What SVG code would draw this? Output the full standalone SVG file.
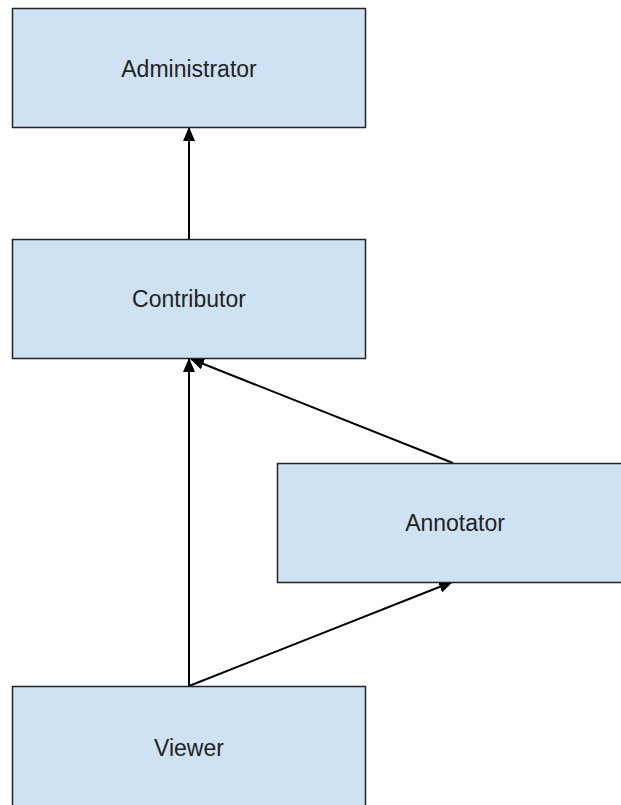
<svg xmlns="http://www.w3.org/2000/svg" width="621" height="805" viewBox="0 0 621 805">
  <style>
    .box { fill: #cfe2f3; stroke: #222; stroke-width: 1.5; }
    .label { font-family: "Liberation Sans", Arial, sans-serif; font-size: 23px; fill: #222; text-anchor: middle; }
    .edge { stroke: #000; stroke-width: 2; fill: none; marker-end: url(#head); }
  </style>
  <defs>
    <marker id="head" markerUnits="userSpaceOnUse" markerWidth="14" markerHeight="12" viewBox="0 0 14 12" refX="13" refY="6" orient="auto">
      <path d="M0,0 L14,6 L0,12 Z" fill="#000"/>
    </marker>
  </defs>
  <rect width="621" height="805" fill="#fff"/>

  <g id="connectors">
    <line class="edge" x1="189" y1="239" x2="189" y2="128"/>
    <line class="edge" x1="189" y1="686" x2="189" y2="359"/>
    <line class="edge" x1="453" y1="463" x2="191" y2="359"/>
    <line class="edge" x1="189" y1="686" x2="452" y2="582"/>
  </g>

  <g id="administrator">
    <rect class="box" x="12.5" y="8.5" width="353" height="119"/>
    <text class="label" x="189" y="76.5">Administrator</text>
  </g>
  <g id="contributor">
    <rect class="box" x="12.5" y="239.5" width="353" height="119"/>
    <text class="label" x="189" y="306.5">Contributor</text>
  </g>
  <g id="annotator">
    <rect class="box" x="277.5" y="463.5" width="353" height="119"/>
    <text class="label" x="455" y="531">Annotator</text>
  </g>
  <g id="viewer">
    <rect class="box" x="12.5" y="686.5" width="353" height="130"/>
    <text class="label" x="189" y="756">Viewer</text>
  </g>
</svg>
